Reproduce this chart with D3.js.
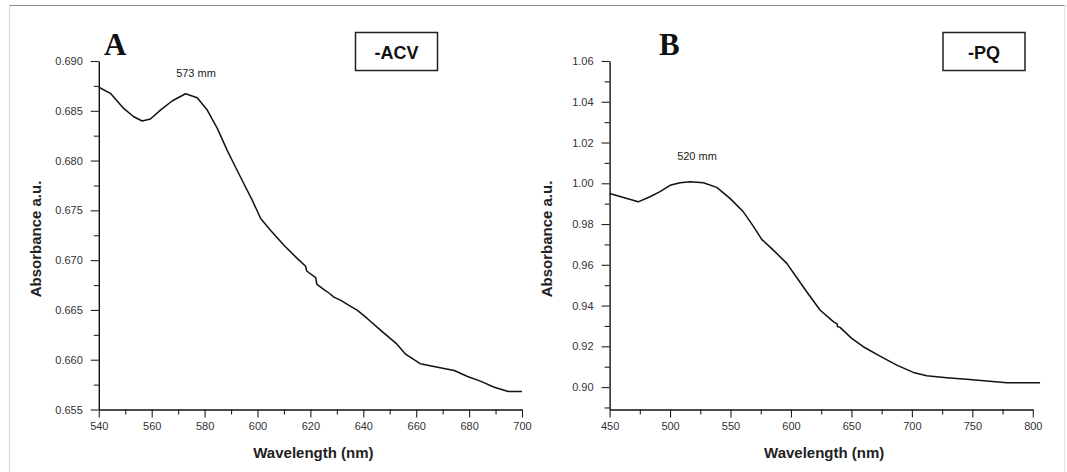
<!DOCTYPE html>
<html>
<head>
<meta charset="utf-8">
<script src="https://cdn.jsdelivr.net/npm/d3@7"></script>
<style>
    body { margin: 0; background: #fff; }
    svg { display: block; font-family: "Liberation Sans", Arial, sans-serif; }
</style>
</head>
<body>
<div id="chart"></div>
<script>
// panel A (-ACV)
const acvWavelength = [540, 544.4, 549.4, 553.2, 556.4, 559.5, 563.3, 567.7, 572.8, 577.2, 581.0, 584.8,
    588.5, 591.0, 594.8, 598.0, 601.2, 604.9, 610.0, 615.1, 618.2, 618.6, 622.0, 622.4, 625.1, 627.0,
    628.9, 631.5, 634.6, 637.8, 641.6, 646.6, 652.3, 656.1, 661.5, 668.1, 674.4, 679.4, 684.5, 689.5,
    694.8, 700];
const acvAbsorbance = [0.68736, 0.68675, 0.68524, 0.68440, 0.68397, 0.68417, 0.68507, 0.68598, 0.68671,
    0.68631, 0.68507, 0.68323, 0.68105, 0.67971, 0.67770, 0.67602, 0.67418, 0.67300, 0.67149, 0.67015,
    0.66938, 0.66891, 0.66825, 0.66760, 0.66704, 0.66670, 0.66629, 0.66596, 0.66546, 0.66496, 0.66412,
    0.66295, 0.66167, 0.66053, 0.65960, 0.65925, 0.65892, 0.65832, 0.65782, 0.65724, 0.65681, 0.65681];
const acvXTicks = [540, 560, 580, 600, 620, 640, 660, 680, 700];
const acvYTicks = [0.655, 0.660, 0.665, 0.670, 0.675, 0.680, 0.685, 0.690];

// panel B (-PQ)
const pqWavelength = [450, 473.7, 483.4, 491.7, 500.0, 508.3, 516.5, 527.5, 538.6, 549.6, 560.6, 568.8,
    575.8, 585.4, 596.5, 603.3, 613.0, 624.0, 635.0, 638.3, 638.4, 640.6, 650.2, 659.8, 673.6, 687.5,
    701.2, 712.3, 728.8, 745.3, 761.9, 778.4, 806];
const pqAbsorbance = [0.9950, 0.9909, 0.9934, 0.9959, 0.9990, 1.0003, 1.0008, 1.0003, 0.9980, 0.9926,
    0.9860, 0.9790, 0.9725, 0.9672, 0.9607, 0.9550, 0.9468, 0.9378, 0.9321, 0.9309, 0.9297, 0.9293,
    0.9239, 0.9198, 0.9152, 0.9108, 0.9072, 0.9056, 0.9046, 0.9038, 0.9030, 0.9021, 0.9021];
const pqXTicks = [450, 500, 550, 600, 650, 700, 750, 800];
const pqYTicks = [0.90, 0.92, 0.94, 0.96, 0.98, 1.00, 1.02, 1.04, 1.06];

const svg = d3.select("#chart")
    .append("svg")
    .attr("width", 1067)
    .attr("height", 472);

// outer frame
svg.append("line").attr("x1", 9).attr("x2", 1066).attr("y1", 5.5).attr("y2", 5.5)
    .attr("stroke", "#8c8c8c").attr("stroke-width", 1.2);
svg.append("line").attr("x1", 9.5).attr("x2", 9.5).attr("y1", 5).attr("y2", 472)
    .attr("stroke", "#d6d6d6");
svg.append("line").attr("x1", 1064.5).attr("x2", 1064.5).attr("y1", 5).attr("y2", 472)
    .attr("stroke", "#e6e6e6");

function drawPanel(cfg) {
    let x = d3.scaleLinear().domain(cfg.xDomain).range([cfg.left, cfg.right]);
    let y = d3.scaleLinear().domain(cfg.yDomain).range([cfg.bottom, cfg.top]);

    let g = svg.append("g");

    // minor ticks first, then major axis on top
    g.append("g")
        .attr("transform", "translate(0," + cfg.bottom + ")")
        .call(d3.axisBottom(x).tickValues(cfg.xMinor).tickSize(5).tickFormat(""))
        .call(a => a.select(".domain").remove());
    g.append("g")
        .attr("transform", "translate(" + cfg.left + ",0)")
        .call(d3.axisLeft(y).tickValues(cfg.yMinor).tickSize(5).tickFormat(""))
        .call(a => a.select(".domain").remove());

    let xAxis = g.append("g")
        .attr("transform", "translate(0," + cfg.bottom + ")")
        .call(d3.axisBottom(x).tickValues(cfg.xTicks).tickSize(8).tickSizeOuter(0)
            .tickPadding(5).tickFormat(d3.format("d")));
    let yAxis = g.append("g")
        .attr("transform", "translate(" + cfg.left + ",0)")
        .call(d3.axisLeft(y).tickValues(cfg.yTicks).tickSize(8).tickSizeOuter(0)
            .tickPadding(8).tickFormat(d3.format(cfg.yFormat)));

    g.selectAll(".domain").attr("stroke", "#111").attr("stroke-width", 1.4);
    g.selectAll(".tick line").attr("stroke", "#222").attr("stroke-width", 1.1);
    g.selectAll(".tick text")
        .attr("fill", "#333")
        .style("font-size", "11px");

    // spectrum
    let line = d3.line()
        .x(d => x(d[0]))
        .y(d => y(d[1]));
    g.append("path")
        .datum(d3.zip(cfg.xs, cfg.ys))
        .attr("fill", "none")
        .attr("stroke", "#111")
        .attr("stroke-width", 1.5)
        .attr("stroke-linejoin", "round")
        .attr("d", line);

    // axis titles
    g.append("text")
        .attr("x", (cfg.left + cfg.right) / 2 + 3)
        .attr("y", 458)
        .attr("text-anchor", "middle")
        .style("font-size", "15px")
        .style("font-weight", "bold")
        .attr("fill", "#222")
        .text("Wavelength (nm)");
    g.append("text")
        .attr("transform", "rotate(-90)")
        .attr("x", -239)
        .attr("y", cfg.titleX)
        .attr("text-anchor", "middle")
        .style("font-size", "15px")
        .style("font-weight", "bold")
        .attr("fill", "#222")
        .text("Absorbance a.u.");

    // panel letter
    g.append("text")
        .attr("x", cfg.letterX)
        .attr("y", 55)
        .style("font-family", "'Liberation Serif', 'Times New Roman', serif")
        .style("font-size", "31px")
        .style("font-weight", "bold")
        .attr("fill", "#111")
        .text(cfg.letter);

    // peak note
    g.append("text")
        .attr("x", cfg.noteX)
        .attr("y", cfg.noteY)
        .attr("text-anchor", "middle")
        .style("font-size", "11px")
        .attr("fill", "#222")
        .text(cfg.note);

    // sample box
    g.append("rect")
        .attr("x", cfg.boxX)
        .attr("y", 32.5)
        .attr("width", 82)
        .attr("height", 38)
        .attr("fill", "#fff")
        .attr("stroke", "#222")
        .attr("stroke-width", 1.5);
    g.append("text")
        .attr("x", cfg.boxX + 41)
        .attr("y", 59)
        .attr("text-anchor", "middle")
        .style("font-size", "18px")
        .style("font-weight", "bold")
        .attr("fill", "#111")
        .text(cfg.label);
}

drawPanel({
    xs: acvWavelength, ys: acvAbsorbance,
    xDomain: [540, 700], yDomain: [0.655, 0.690],
    left: 98.8, right: 522, top: 61, bottom: 409.5,
    xTicks: acvXTicks, xMinor: d3.range(550, 700, 20),
    yTicks: acvYTicks, yMinor: d3.range(0.6575, 0.690, 0.005),
    yFormat: ".3f",
    titleX: 41, letter: "A", letterX: 104,
    note: "573 mm", noteX: 196, noteY: 77,
    boxX: 355.5, label: "-ACV"
});

drawPanel({
    xs: pqWavelength, ys: pqAbsorbance,
    xDomain: [450, 800], yDomain: [0.889, 1.06],
    left: 609.6, right: 1032.8, top: 61, bottom: 409.5,
    xTicks: pqXTicks, xMinor: d3.range(475, 800, 50),
    yTicks: pqYTicks, yMinor: d3.range(0.89, 1.06, 0.02),
    yFormat: ".2f",
    titleX: 552, letter: "B", letterX: 659,
    note: "520 mm", noteX: 697, noteY: 160,
    boxX: 943, label: "-PQ"
});
</script>
</body>
</html>
